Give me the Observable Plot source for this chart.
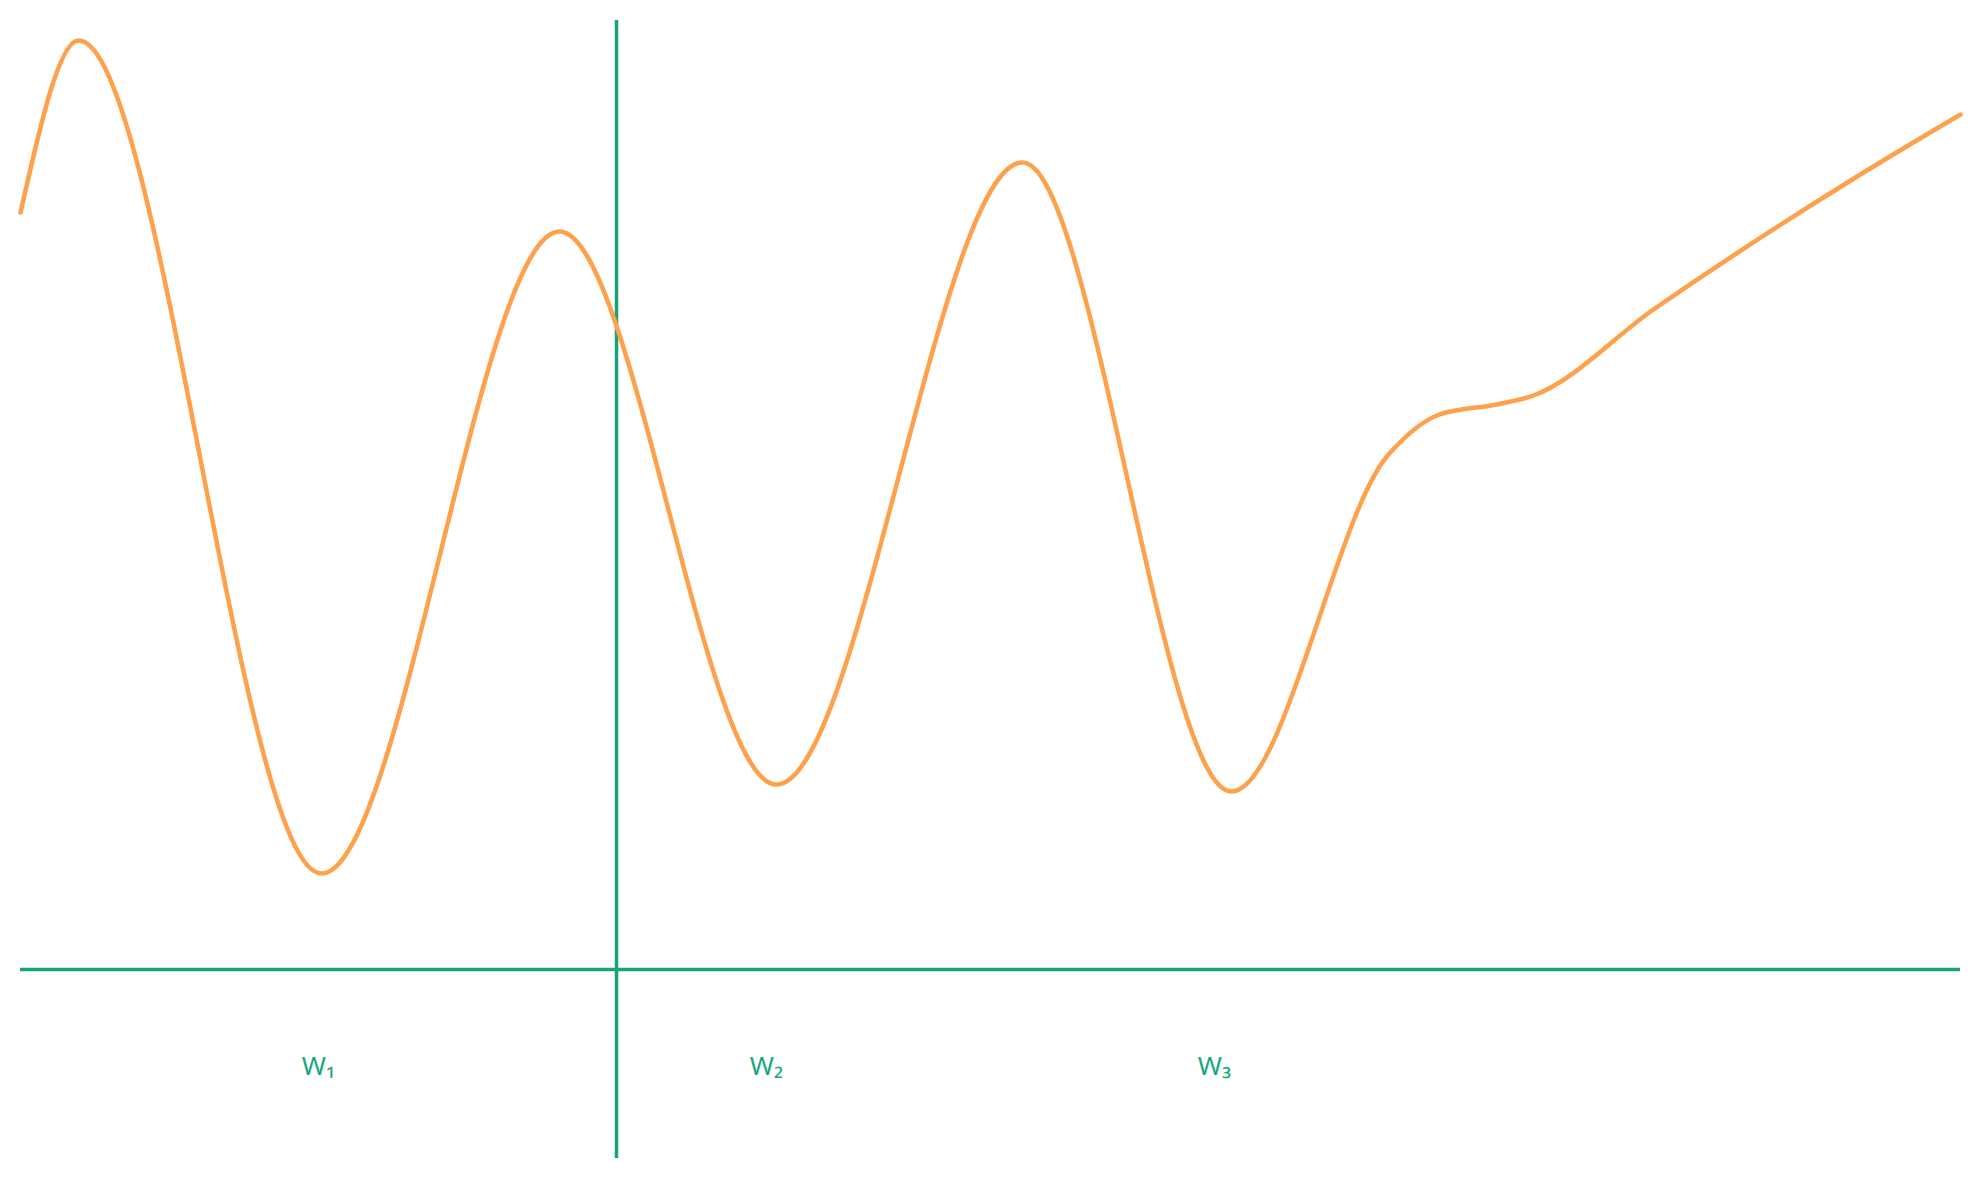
<!DOCTYPE html>
<html>
<head>
<meta charset="utf-8">
<script src="https://cdn.jsdelivr.net/npm/d3@7"></script>
<script src="https://cdn.jsdelivr.net/npm/@observablehq/plot@0.6"></script>
<style>body{margin:0;background:#fff;font-family:"DejaVu Sans",sans-serif}</style>
</head>
<body>
<div id="chart"></div>
<script>
// curve points (x along the axis, y above the baseline)
const curveX = [20, 78, 321, 559, 776, 1022, 1231, 1388, 1439, 1496, 1533, 1653, 1855, 1960];
const curveY = [757, 929, 96, 738, 185, 807, 178, 515, 555, 565, 574, 660, 792, 855];
const labels = ["W₁", "W₂", "W₃"];
const labelX = [318, 766, 1214];
const splitX = 616;

const curve = curveX.map((x, i) => ({x, y: curveY[i]}));
const lab = labels.map((t, i) => ({t, x: labelX[i], y: -97}));

let chart = Plot.plot({
  width: 1979,
  height: 1180,
  marginLeft: 20,
  marginRight: 19,
  marginTop: 20,
  marginBottom: 22,
  x: {domain: [20, 1960], axis: null},
  y: {domain: [-189, 949], axis: null},
  marks: [
    Plot.ruleY([0], {stroke: "#1aa37a", strokeWidth: 3.5}),
    Plot.ruleX([splitX], {stroke: "#1aa37a", strokeWidth: 3.5}),
    Plot.line(curve, {x: "x", y: "y", curve: "monotone-x", stroke: "#ffa04b", strokeWidth: 4.5}),
    Plot.text(lab, {x: "x", y: "y", text: "t", fill: "#16a77e", fontSize: 26})
  ]
});
d3.select("#chart").append(() => chart);
</script>
</body>
</html>
